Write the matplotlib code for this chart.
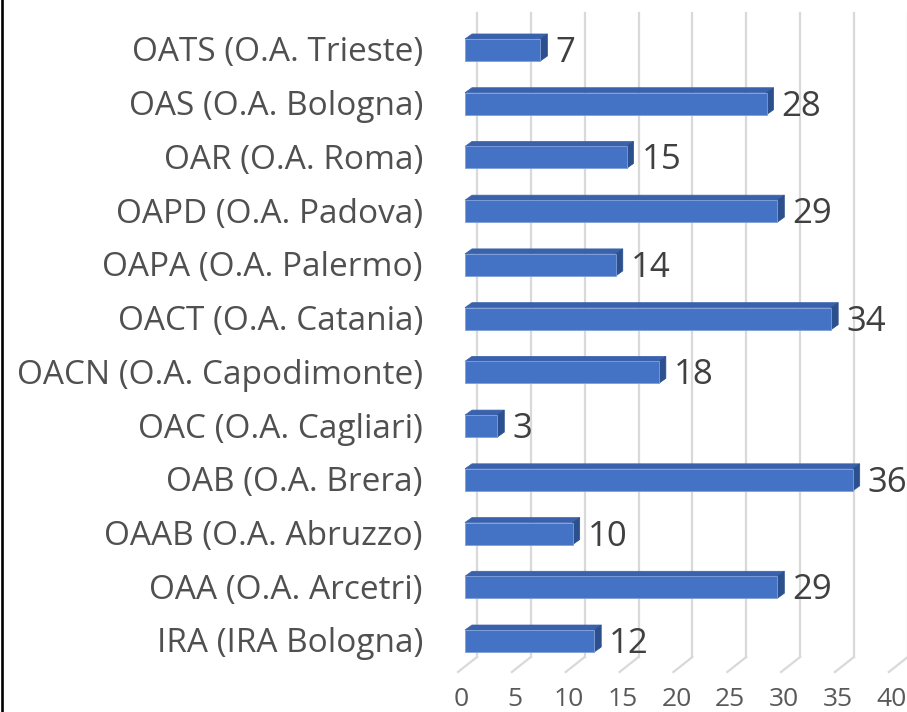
import matplotlib.pyplot as plt
from matplotlib.patches import Polygon
from matplotlib.lines import Line2D

# data (bottom to top)
categories = ['IRA (IRA Bologna)', 'OAA (O.A. Arcetri)', 'OAAB (O.A. Abruzzo)',
              'OAB (O.A. Brera)', 'OAC (O.A. Cagliari)', 'OACN (O.A. Capodimonte)',
              'OACT (O.A. Catania)', 'OAPA (O.A. Palermo)', 'OAPD (O.A. Padova)',
              'OAR (O.A. Roma)', 'OAS (O.A. Bologna)', 'OATS (O.A. Trieste)']
values = [12, 29, 10, 36, 3, 18, 34, 14, 29, 15, 28, 7]
xticks = [0, 5, 10, 15, 20, 25, 30, 35, 40]

plt.rcParams['font.family'] = ['Open Sans', 'DejaVu Sans']

W, H = 907, 712
fig = plt.figure(figsize=(W / 100, H / 100), dpi=100)
ax = fig.add_axes([0, 0, 1, 1])
ax.axis('off')

# pixel geometry of the pseudo-3d chart
X0 = 465.0      # front face of bars at value 0
SX = 10.77      # px per unit
Y0 = 641.0      # centre of bottom bar (px from top)
SY = 53.73      # px per category

ax.set_xlim(-X0 / SX, (W - X0) / SX)
ax.set_ylim(-(H - Y0) / SY, Y0 / SY)


def dx(px):
    return px / SX


def dy(px):
    return px / SY


front = '#4472C4'
top = '#3A62AC'
side = '#2C4F8E'
grid = '#D9D9D9'

# gridlines: back wall + floor diagonal
g_back = dx(12)
g_top = dy(Y0 - 13)
g_floor = -dy(657 - Y0)
for t in xticks:
    xb = t + g_back
    ax.plot([xb, xb], [g_floor, g_top], color=grid, lw=1.6, zorder=1)
    ax.plot([xb, t - dx(7)], [g_floor, g_floor - dy(15)], color=grid, lw=1.6, zorder=1)
    ax.text(t - dx(4), -dy(700 - Y0), str(t), ha='center', va='center',
            fontsize=19, color='#595959')

# bars
bh = dy(22)
ox, oy = dx(7), dy(5)
for i, (c, v) in enumerate(zip(categories, values)):
    y1, y2 = i - bh / 2, i + bh / 2
    ax.add_patch(Polygon([(0, y2), (v, y2), (v + ox, y2 + oy), (ox, y2 + oy)],
                         closed=True, facecolor=top, edgecolor=top, lw=0.5, zorder=3))
    ax.add_patch(Polygon([(v, y1), (v + ox, y1 + oy), (v + ox, y2 + oy), (v, y2)],
                         closed=True, facecolor=side, edgecolor=side, lw=0.5, zorder=3))
    ax.add_patch(Polygon([(0, y1), (v, y1), (v, y2), (0, y2)],
                         closed=True, facecolor=front, edgecolor='#7F9FD8', lw=0.6, zorder=4))
    ax.text(v + ox + dx(8), i - dy(3), str(v), ha='left', va='center',
            fontsize=25, color='#404040', zorder=5)
    ax.text(-dx(465 - 423), i - dy(3), c, ha='right', va='center',
            fontsize=24, color='#505050')

fig.add_artist(Line2D([1.5 / W, 1.5 / W], [0, 1], color='black', lw=1.9))

fig.savefig('out.png', dpi=100)
